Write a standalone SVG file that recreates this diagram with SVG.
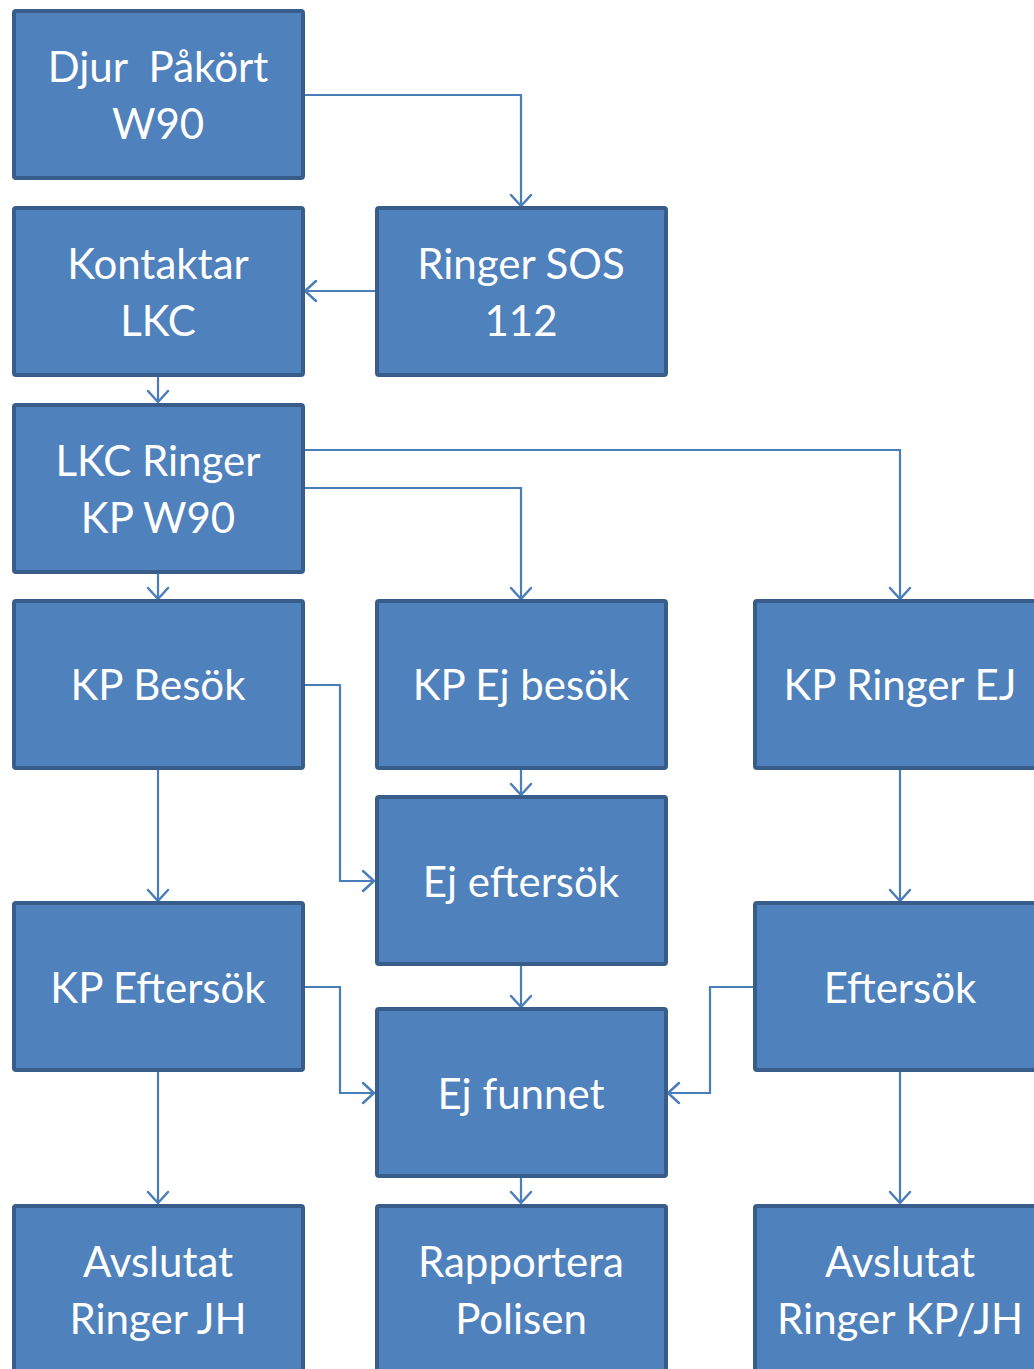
<svg xmlns="http://www.w3.org/2000/svg" width="1034" height="1369" viewBox="0 0 1034 1369">
<style>
.box{fill:#4F81BD;stroke:#385D8A;stroke-width:4}
.t{font-family:Lato,"Open Sans","Liberation Sans",sans-serif;font-size:42px;fill:#fff;text-anchor:middle;white-space:pre}
.c{fill:none;stroke:#4A7EBB;stroke-width:2.2;marker-end:url(#a)}
</style>
<defs>
<marker id="a" markerUnits="userSpaceOnUse" markerWidth="24" markerHeight="24" viewBox="-13 -12 14 24" refX="0" refY="0" orient="auto">
<path d="M-11,-10 L0,0 L-11,10" fill="none" stroke="#4A7EBB" stroke-width="2.5" stroke-linecap="round"/>
</marker>
</defs>
<g id="connectors">
<path class="c" d="M303,95 H521 V206"/>
<path class="c" d="M376,291 H305"/>
<path class="c" d="M158,375 V402"/>
<path class="c" d="M303,450 H900 V599"/>
<path class="c" d="M303,488 H521 V599"/>
<path class="c" d="M158,572 V599"/>
<path class="c" d="M303,685 H340 V881 H374"/>
<path class="c" d="M521,768 V795"/>
<path class="c" d="M158,768 V901"/>
<path class="c" d="M900,768 V901"/>
<path class="c" d="M521,965 V1007"/>
<path class="c" d="M303,987 H340 V1093 H374"/>
<path class="c" d="M754,987 H710 V1093 H668"/>
<path class="c" d="M158,1070 V1203"/>
<path class="c" d="M521,1176 V1203"/>
<path class="c" d="M900,1070 V1203"/>
</g>
<g id="n1"><rect class="box" x="14" y="11" width="289" height="167" rx="2"/><text class="t" x="158" y="82" xml:space="preserve">Djur  Påkört</text><text class="t" x="158" y="139">W90</text></g>
<g id="n2"><rect class="box" x="377" y="208" width="289" height="167" rx="2"/><text class="t" x="521" y="279">Ringer SOS</text><text class="t" x="521" y="336">112</text></g>
<g id="n3"><rect class="box" x="14" y="208" width="289" height="167" rx="2"/><text class="t" x="158" y="279">Kontaktar</text><text class="t" x="158" y="336">LKC</text></g>
<g id="n4"><rect class="box" x="14" y="405" width="289" height="167" rx="2"/><text class="t" x="158" y="476">LKC Ringer</text><text class="t" x="158" y="533">KP W90</text></g>
<g id="n5"><rect class="box" x="14" y="601" width="289" height="167" rx="2"/><text class="t" x="158" y="700">KP Besök</text></g>
<g id="n6"><rect class="box" x="377" y="601" width="289" height="167" rx="2"/><text class="t" x="521" y="700">KP Ej besök</text></g>
<g id="n7"><rect class="box" x="755" y="601" width="289" height="167" rx="2"/><text class="t" x="900" y="700">KP Ringer EJ</text></g>
<g id="n8"><rect class="box" x="377" y="797" width="289" height="167" rx="2"/><text class="t" x="521" y="897">Ej eftersök</text></g>
<g id="n9"><rect class="box" x="14" y="903" width="289" height="167" rx="2"/><text class="t" x="158" y="1003">KP Eftersök</text></g>
<g id="n10"><rect class="box" x="755" y="903" width="289" height="167" rx="2"/><text class="t" x="900" y="1003">Eftersök</text></g>
<g id="n11"><rect class="box" x="377" y="1009" width="289" height="167" rx="2"/><text class="t" x="521" y="1109">Ej funnet</text></g>
<g id="n12"><rect class="box" x="14" y="1206" width="289" height="167" rx="2"/><text class="t" x="158" y="1277">Avslutat</text><text class="t" x="158" y="1334">Ringer JH</text></g>
<g id="n13"><rect class="box" x="377" y="1206" width="289" height="167" rx="2"/><text class="t" x="521" y="1277">Rapportera</text><text class="t" x="521" y="1334">Polisen</text></g>
<g id="n14"><rect class="box" x="755" y="1206" width="289" height="167" rx="2"/><text class="t" x="900" y="1277">Avslutat</text><text class="t" x="900" y="1334">Ringer KP/JH</text></g>
</svg>
